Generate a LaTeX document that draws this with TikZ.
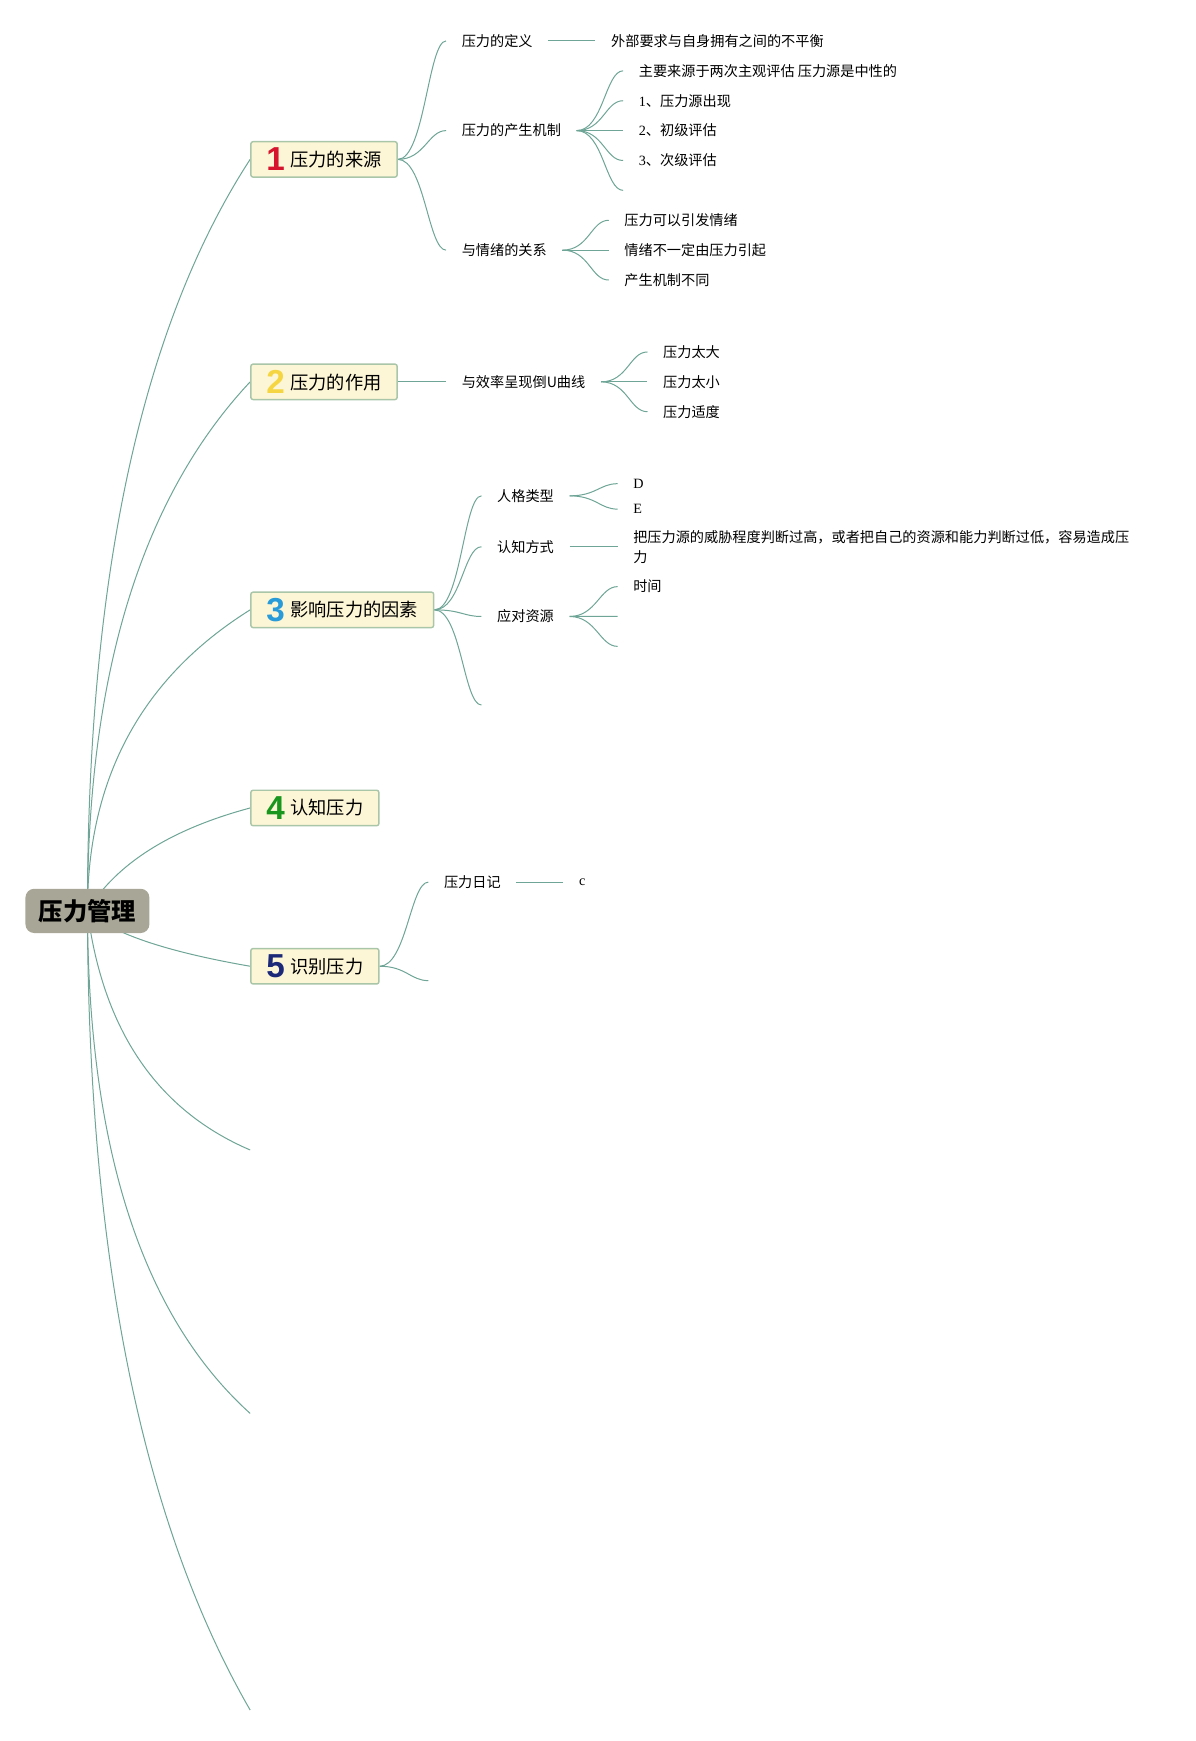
\documentclass[tikz,border=0pt]{standalone}
\usepackage{fontspec}
\setmainfont{Liberation Serif}
\newfontfamily\cjk{Noto Sans CJK SC}
\newfontfamily\numfont{Liberation Sans}
\usetikzlibrary{calc,backgrounds}

\definecolor{linkc}{RGB}{110,165,150}
\definecolor{boxfill}{RGB}{253,246,214}
\definecolor{boxline}{RGB}{169,198,168}
\definecolor{rootfill}{RGB}{168,166,150}
\definecolor{prio1}{RGB}{214,20,45}
\definecolor{prio2}{RGB}{245,214,66}
\definecolor{prio3}{RGB}{40,155,216}
\definecolor{prio4}{RGB}{25,150,30}
\definecolor{prio5}{RGB}{28,40,120}

\tikzset{
  link/.style={draw=linkc, line width=0.9pt},
  quad/.style={to path={.. controls ($(\tikztostart)!2/3!#1$) and ($(\tikztotarget)!2/3!#1$) .. (\tikztotarget)}},
  fan/.style={to path={.. controls +(24,0) and +(-16,0) .. (\tikztotarget)}},
  rootbox/.style={fill=rootfill, rounded corners=8pt, minimum width=112pt, minimum height=40pt,
    inner sep=0pt, font=\cjk\bfseries\fontsize{22}{26}\selectfont},
  topic/.style={draw=boxline, fill=boxfill, line width=1.3pt, rounded corners=2pt, minimum height=32pt,
    inner xsep=14pt, inner ysep=0pt, anchor=west, font=\cjk\fontsize{16.5}{20}\selectfont},
  leaf/.style={inner xsep=14pt, inner ysep=2pt, anchor=west, align=left,
    font=\cjk\fontsize{12.8}{18}\selectfont}
}
\newcommand\prio[2]{\raisebox{-4pt}{\numfont\bfseries\fontsize{30}{30}\selectfont\color{#1}#2}\hspace{5pt}}

\begin{document}
\begin{tikzpicture}[x=1pt,y=-1pt]
  \useasboundingbox (0,0) rectangle (1080,1573);
  % Root
  \node[rootbox] (root) at (79,823) {压力管理};
  % Main topics
  \node[topic] (t1) at (226,144) {\prio{prio1}{1}压力的来源};
  \node[topic] (t2) at (226,345) {\prio{prio2}{2}压力的作用};
  \node[topic] (t3) at (226,551) {\prio{prio3}{3}影响压力的因素};
  \node[topic] (t4) at (226,730) {\prio{prio4}{4}认知压力};
  \node[topic] (t5) at (226,873) {\prio{prio5}{5}识别压力};
  \coordinate (t6) at (226,1039);
  \coordinate (t7) at (226,1277);
  \coordinate (t8) at (226,1545);
  % Topic 1
  \node[leaf] (def) at (403,37) {压力的定义};
  \node[leaf] (defx) at (538,37) {外部要求与自身拥有之间的不平衡};
  \node[leaf] (mech) at (403,118) {压力的产生机制};
  \node[leaf] (m1) at (563,64) {主要来源于两次主观评估 压力源是中性的};
  \node[leaf] (m2) at (563,91) {{\rmfamily 1}、压力源出现};
  \node[leaf] (m3) at (563,118) {{\rmfamily 2}、初级评估};
  \node[leaf] (m4) at (563,145) {{\rmfamily 3}、次级评估};
  \coordinate (m5) at (563,172);
  \node[leaf] (emo) at (403,226) {与情绪的关系};
  \node[leaf] (e1) at (550,199) {压力可以引发情绪};
  \node[leaf] (e2) at (550,226) {情绪不一定由压力引起};
  \node[leaf] (e3) at (550,253) {产生机制不同};
  % Topic 2
  \node[leaf] (eff) at (403,345) {与效率呈现倒U曲线};
  \node[leaf] (f1) at (585,318) {压力太大};
  \node[leaf] (f2) at (585,345) {压力太小};
  \node[leaf] (f3) at (585,372) {压力适度};
  % Topic 3
  \node[leaf] (pers) at (435,448) {人格类型};
  \node[leaf] (p1) at (558,437) {{\rmfamily D}};
  \node[leaf] (p2) at (558,460) {{\rmfamily E}};
  \node[leaf] (cog) at (435,494) {认知方式};
  \node[leaf] (cogx) at (558,494) {把压力源的威胁程度判断过高，或者把自己的资源和能力判断过低，容易造成压\\力};
  \node[leaf] (res) at (435,557) {应对资源};
  \node[leaf] (r1) at (558,530) {时间};
  \coordinate (r2) at (558,557);
  \coordinate (r3) at (558,584);
  \coordinate (t3x) at (435,637);
  % Topic 5
  \node[leaf] (diary) at (387,797) {压力日记};
  \node[leaf] (dc) at (509,797) {{\rmfamily c}};
  \coordinate (t5x) at (387,886);

  % Connectors
  \begin{scope}[on background layer]
    \fill[white] (0,0) rectangle (1080,1573);
    \draw[link] (root.center) to[quad={(79,370)}] (t1.west);
    \draw[link] (root.center) to[quad={(79,502)}] (t2.west);
    \draw[link] (root.center) to[quad={(79,643)}] (t3.west);
    \draw[link] (root.center) to[quad={(118,759)}] (t4.west);
    \draw[link] (root.center) to[quad={(111,853)}] (t5.west);
    \draw[link] (root.center) to[quad={(100,985)}] (t6);
    \draw[link] (root.center) to[quad={(80,1145)}] (t7);
    \draw[link] (root.center) to[quad={(80,1292)}] (t8);
    \foreach \n in {def,mech,emo} \draw[link] (t1.east) to[fan] (\n.west);
    \draw[link] (def.east) to[fan] (defx.west);
    \foreach \n in {m1,m2,m3,m4} \draw[link] (mech.east) to[fan] (\n.west);
    \draw[link] (mech.east) to[fan] (m5);
    \foreach \n in {e1,e2,e3} \draw[link] (emo.east) to[fan] (\n.west);
    \draw[link] (t2.east) to[fan] (eff.west);
    \foreach \n in {f1,f2,f3} \draw[link] (eff.east) to[fan] (\n.west);
    \foreach \n in {pers,cog,res} \draw[link] (t3.east) to[fan] (\n.west);
    \draw[link] (t3.east) to[fan] (t3x);
    \foreach \n in {p1,p2} \draw[link] (pers.east) to[fan] (\n.west);
    \draw[link] (cog.east) to[fan] (cogx.west);
    \draw[link] (res.east) to[fan] (r1.west);
    \draw[link] (res.east) to[fan] (r2) (res.east) to[fan] (r3);
    \draw[link] (t5.east) to[fan] (diary.west);
    \draw[link] (t5.east) to[fan] (t5x);
    \draw[link] (diary.east) to[fan] (dc.west);
  \end{scope}
\end{tikzpicture}
\end{document}
